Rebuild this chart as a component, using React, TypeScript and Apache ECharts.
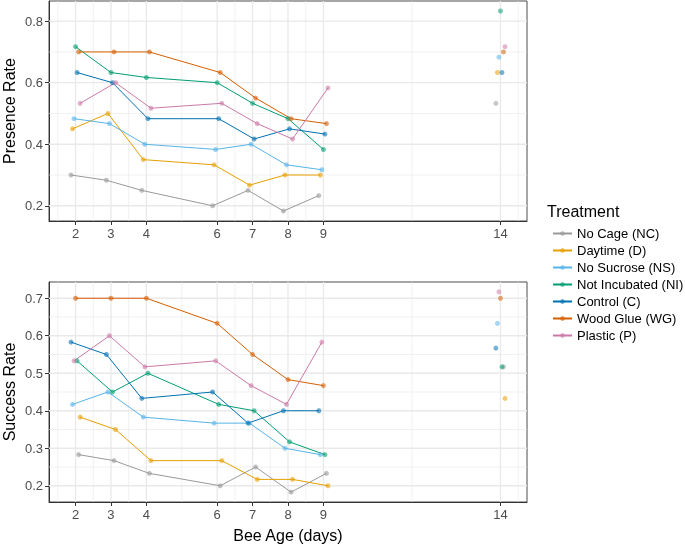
import React, { useEffect, useRef } from "react";
import * as echarts from "echarts";

// ---- data ----
const treatments = [
  "No Cage (NC)",
  "Daytime (D)",
  "No Sucrose (NS)",
  "Not Incubated (NI)",
  "Control (C)",
  "Wood Glue (WG)",
  "Plastic (P)",
];
const colors = ["#999999", "#E69F00", "#56B4E9", "#009E73", "#0072B2", "#D55E00", "#CC79A7"];

const ages = [2, 3, 4, 6, 7, 8, 9];
const lateAge = 14;
const xTickLabels = [2, 3, 4, 6, 7, 8, 9, 14];
const xMinorBreaks = [1.5, 2.5, 3.5, 5, 6.5, 7.5, 8.5, 11.5, 14.5];

// Presence rate by treatment (ages 2..9) and at age 14
const presenceNC = [0.3, 0.283, 0.25, 0.2, 0.25, 0.183, 0.233];
const presenceD = [0.45, 0.5, 0.35, 0.333, 0.267, 0.3, 0.3];
const presenceNS = [0.483, 0.467, 0.4, 0.383, 0.4, 0.333, 0.317];
const presenceNI = [0.717, 0.633, 0.617, 0.6, 0.533, 0.483, 0.383];
const presenceC = [0.633, 0.6, 0.483, 0.483, 0.417, 0.45, 0.433];
const presenceWG = [0.7, 0.7, 0.7, 0.633, 0.55, 0.483, 0.467];
const presenceP = [0.533, 0.6, 0.517, 0.533, 0.467, 0.417, 0.583];
const presenceAt14 = [0.533, 0.633, 0.683, 0.833, 0.633, 0.7, 0.717];

// Success rate by treatment (ages 2..9) and at age 14
const successNC = [0.283, 0.267, 0.233, 0.2, 0.25, 0.183, 0.233];
const successD = [0.383, 0.35, 0.267, 0.267, 0.217, 0.217, 0.2];
const successNS = [0.417, 0.45, 0.383, 0.367, 0.367, 0.3, 0.283];
const successNI = [0.533, 0.45, 0.5, 0.417, 0.4, 0.317, 0.283];
const successC = [0.583, 0.55, 0.433, 0.45, 0.367, 0.4, 0.4];
const successWG = [0.7, 0.7, 0.7, 0.633, 0.55, 0.483, 0.467];
const successP = [0.533, 0.6, 0.517, 0.533, 0.467, 0.417, 0.583];
const successAt14 = [0.517, 0.433, 0.633, 0.517, 0.567, 0.7, 0.717];

// dodge slot of each treatment within a panel
const presenceSlots = [0, 1, 2, 3, 4, 5, 6];
const successSlots = [5, 6, 1, 4, 0, 3, 2];
const dodgeStep = 0.043;

const presenceTicks = [0.2, 0.4, 0.6, 0.8];
const presenceMinor = [0.3, 0.5, 0.7];
const successTicks = [0.2, 0.3, 0.4, 0.5, 0.6, 0.7];
const successMinor = [0.25, 0.35, 0.45, 0.55, 0.65];

const xMin = 1.25;
const xMax = 14.75;
const presenceRange = [0.1505, 0.8655];
const successRange = [0.1567, 0.7433];

const presenceSeries = [presenceNC, presenceD, presenceNS, presenceNI, presenceC, presenceWG, presenceP];
const successSeries = [successNC, successD, successNS, successNI, successC, successWG, successP];

const FONT = "'Liberation Sans', Arial, Helvetica, sans-serif";

export default function App() {
  const ref = useRef<HTMLDivElement>(null);

  useEffect(() => {
    if (!ref.current) return;
    const chart = echarts.init(ref.current, null, { renderer: "svg" });

    const panels = [
      { values: presenceSeries, late: presenceAt14, slots: presenceSlots, ticks: presenceTicks, minor: presenceMinor, range: presenceRange, title: "Presence Rate" },
      { values: successSeries, late: successAt14, slots: successSlots, ticks: successTicks, minor: successMinor, range: successRange, title: "Success Rate" },
    ];

    const series: any[] = [];
    panels.forEach((p, k) => {
      const grid: any[] = [];
      xTickLabels.forEach((v) => grid.push([v, 0, 1]));
      xMinorBreaks.forEach((v) => grid.push([v, 0, 0]));
      p.ticks.forEach((v) => grid.push([v, 1, 1]));
      p.minor.forEach((v) => grid.push([v, 1, 0]));
      series.push({
        type: "custom",
        xAxisIndex: k,
        yAxisIndex: k,
        z: 1,
        silent: true,
        data: grid,
        renderItem: (params: any, api: any) => {
          const cs = params.coordSys;
          const v = api.value(0);
          const o = api.value(1);
          const m = api.value(2);
          const style = { stroke: "#e9e9e9", lineWidth: m ? 1.3 : 0.65 };
          if (o === 0) {
            const px = api.coord([v, p.range[0]])[0];
            return { type: "line", shape: { x1: px, y1: cs.y, x2: px, y2: cs.y + cs.height }, style };
          }
          const py = api.coord([xMin, v])[1];
          return { type: "line", shape: { x1: cs.x, y1: py, x2: cs.x + cs.width, y2: py }, style };
        },
      });
    });

    panels.forEach((p, k) => {
      treatments.forEach((name, i) => {
        const off = (p.slots[i] - 3) * dodgeStep;
        series.push({
          type: "line",
          name,
          xAxisIndex: k,
          yAxisIndex: k,
          z: 3,
          symbol: "circle",
          symbolSize: 5,
          showSymbol: true,
          data: ages.map((a, j) => [a + off, p.values[i][j]]),
          lineStyle: { color: colors[i], width: 1 },
          itemStyle: { color: colors[i], opacity: 0.6 },
        });
        series.push({
          type: "scatter",
          name,
          xAxisIndex: k,
          yAxisIndex: k,
          z: 3,
          symbol: "circle",
          symbolSize: 5,
          data: [[lateAge + off, p.late[i]]],
          itemStyle: { color: colors[i], opacity: 0.55 },
        });
      });
    });

    const grids = [
      { left: 49, top: 1, width: 478, height: 220 },
      { left: 49, top: 282, width: 478, height: 220 },
    ];

    const option: any = {
      animation: false,
      textStyle: { fontFamily: FONT },
      grid: grids.map((g) => ({
        ...g,
        containLabel: false,
        outerBoundsMode: "none",
        show: true,
        borderColor: "#4d4d4d",
        borderWidth: 1,
        backgroundColor: "transparent",
      })),
      xAxis: panels.map((p, k) => ({
        type: "value",
        gridIndex: k,
        min: xMin,
        max: xMax,
        name: k === 1 ? "Bee Age (days)" : "",
        nameLocation: "middle",
        nameGap: 25,
        nameMoveOverlap: false,
        nameTextStyle: { fontSize: 16, color: "#000", fontFamily: FONT },
        axisLine: { show: true, onZero: false, lineStyle: { color: "#333", width: 1 } },
        axisTick: { show: true, length: 4, customValues: xTickLabels, lineStyle: { color: "#333" } },
        axisLabel: { customValues: xTickLabels, color: "#4d4d4d", fontSize: 13, margin: 6, fontFamily: FONT },
        splitLine: { show: false },
      })),
      yAxis: panels.map((p, k) => ({
        type: "value",
        gridIndex: k,
        min: p.range[0],
        max: p.range[1],
        name: p.title,
        nameLocation: "middle",
        nameGap: 32,
        nameMoveOverlap: false,
        nameTextStyle: { fontSize: 16, color: "#000", fontFamily: FONT },
        axisLine: { show: true, onZero: false, lineStyle: { color: "#333", width: 1 } },
        axisTick: { show: true, length: 4, customValues: p.ticks, lineStyle: { color: "#333" } },
        axisLabel: {
          customValues: p.ticks,
          color: "#4d4d4d",
          fontSize: 13,
          margin: 6,
          fontFamily: FONT,
          formatter: (v: number) => v.toFixed(1),
        },
        splitLine: { show: false },
      })),
      legend: {
        orient: "vertical",
        left: 547,
        top: 220,
        data: treatments,
        itemWidth: 19,
        itemHeight: 6,
        itemGap: 0,
        selectedMode: false,
        textStyle: { fontSize: 13, color: "#000", fontFamily: FONT, lineHeight: 17 },
      },
      graphic: [
        {
          type: "text",
          left: 547,
          top: 203,
          style: { text: "Treatment", fontSize: 16, fill: "#000", fontFamily: FONT },
        },
      ],
      series,
    };

    chart.setOption(option);
    return () => chart.dispose();
  }, []);

  return <div ref={ref} style={{ position: "fixed", left: 0, top: 0, width: 685, height: 545 }} />;
}
